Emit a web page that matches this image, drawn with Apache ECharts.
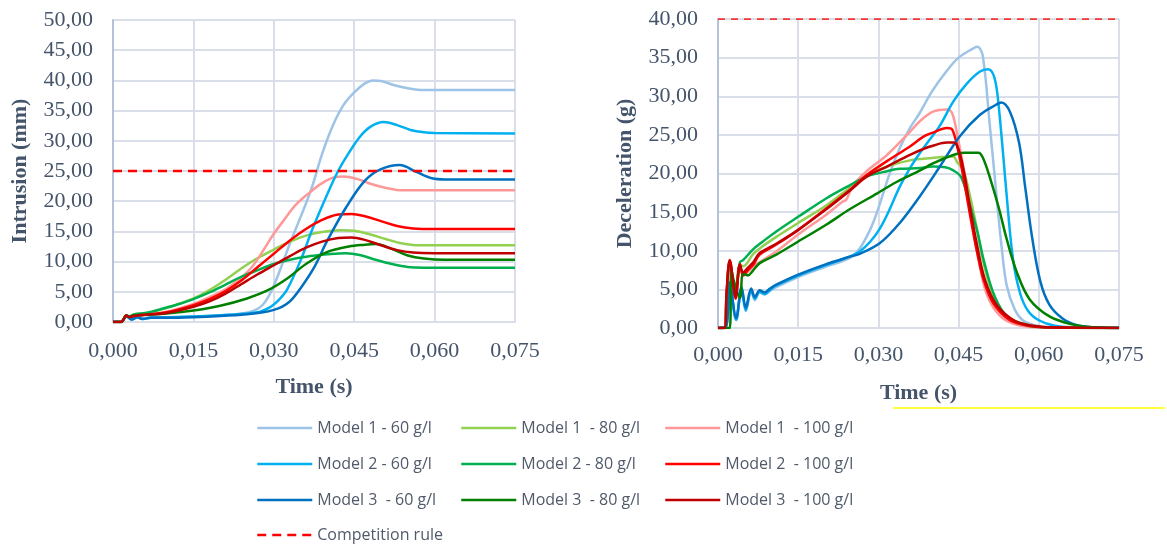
<!DOCTYPE html>
<html>
<head>
<meta charset="utf-8">
<script src="https://cdn.jsdelivr.net/npm/echarts@6/dist/echarts.min.js"></script>
<style>
html, body { margin: 0; padding: 0; background: #fff; }
#chart { width: 1167px; height: 547px; }
</style>
</head>
<body>
<div id="chart"></div>
<script>
// intrusion (mm) vs time (s)
var intrM1_60 = [[0,0],[0.0015,0],[0.0025,1.0],[0.0035,0.5],[0.0045,0.9],[0.0055,0.6],[0.007,0.8],[0.010,0.8],[0.015,0.9],[0.020,1.1],[0.024,1.4],[0.026,1.8],[0.027,2.2],[0.028,2.9],[0.029,4.2],[0.030,6.0],[0.0315,9.4],[0.033,13.0],[0.035,17.4],[0.037,22.0],[0.039,27.8],[0.041,32.5],[0.043,35.9],[0.045,38.0],[0.047,39.5],[0.0485,40.0],[0.050,39.9],[0.0525,39.2],[0.055,38.7],[0.058,38.4],[0.075,38.4]];
var intrM2_60 = [[0,0],[0.0015,0],[0.0025,0.9],[0.0035,0.4],[0.0045,0.8],[0.0055,0.5],[0.007,0.7],[0.010,0.8],[0.015,0.9],[0.020,1.1],[0.025,1.4],[0.027,1.6],[0.028,1.9],[0.029,2.3],[0.030,2.9],[0.031,3.7],[0.0325,5.4],[0.035,10.2],[0.0373,15.6],[0.040,21.2],[0.042,25.0],[0.044,28.0],[0.046,30.6],[0.048,32.3],[0.0505,33.1],[0.053,32.6],[0.0555,31.8],[0.058,31.4],[0.060,31.3],[0.075,31.2]];
var intrM3_60 = [[0,0],[0.0015,0],[0.0025,1.0],[0.0035,0.4],[0.0045,0.8],[0.0055,0.5],[0.007,0.7],[0.010,0.7],[0.015,0.8],[0.020,1.0],[0.025,1.3],[0.028,1.6],[0.030,2.0],[0.0315,2.5],[0.033,3.4],[0.035,5.6],[0.0375,9.0],[0.040,13.5],[0.0435,19.0],[0.047,23.4],[0.050,25.3],[0.0535,26.0],[0.0565,24.9],[0.0595,23.8],[0.062,23.6],[0.075,23.6]];
var intrM1_80 = [[0,0],[0.0015,0],[0.0025,1.1],[0.003,0.9],[0.004,1.2],[0.006,1.4],[0.008,1.8],[0.010,2.3],[0.012,2.9],[0.015,3.9],[0.018,5.3],[0.021,7.0],[0.024,8.9],[0.027,10.6],[0.030,12.0],[0.033,13.3],[0.036,14.3],[0.039,14.9],[0.0425,15.2],[0.045,15.1],[0.048,14.5],[0.051,13.7],[0.054,13.0],[0.057,12.7],[0.075,12.7]];
var intrM2_80 = [[0,0],[0.0015,0],[0.0025,1.1],[0.003,0.9],[0.004,1.3],[0.006,1.5],[0.008,1.9],[0.010,2.4],[0.012,2.9],[0.015,3.8],[0.018,4.9],[0.021,6.2],[0.024,7.5],[0.027,8.6],[0.030,9.6],[0.033,10.3],[0.036,10.8],[0.040,11.2],[0.0435,11.4],[0.046,11.1],[0.049,10.3],[0.052,9.6],[0.055,9.1],[0.058,9.0],[0.075,9.0]];
var intrM3_80 = [[0,0],[0.0015,0],[0.0025,1.0],[0.003,0.9],[0.004,1.1],[0.006,1.2],[0.010,1.4],[0.015,1.9],[0.020,2.7],[0.025,3.9],[0.029,5.3],[0.0325,7.2],[0.036,9.6],[0.040,11.6],[0.044,12.5],[0.047,12.8],[0.049,12.9],[0.052,12.1],[0.055,11.0],[0.058,10.5],[0.062,10.3],[0.075,10.3]];
var intrM1_100 = [[0,0],[0.0015,0],[0.0025,1.0],[0.003,0.8],[0.004,1.0],[0.006,1.2],[0.010,1.7],[0.015,3.0],[0.018,4.1],[0.021,5.4],[0.024,7.4],[0.026,9.2],[0.028,11.8],[0.030,14.6],[0.032,17.0],[0.034,19.3],[0.0365,21.3],[0.039,23.0],[0.0415,24.0],[0.043,24.1],[0.0455,23.7],[0.048,22.9],[0.051,22.2],[0.054,21.8],[0.075,21.8]];
var intrM2_100 = [[0,0],[0.0015,0],[0.0025,1.0],[0.003,0.8],[0.004,1.1],[0.006,1.2],[0.010,1.6],[0.015,2.8],[0.018,3.8],[0.021,5.1],[0.024,6.9],[0.027,9.1],[0.030,11.3],[0.033,13.5],[0.036,15.4],[0.039,16.9],[0.042,17.8],[0.0445,17.9],[0.047,17.5],[0.050,16.7],[0.053,15.9],[0.056,15.5],[0.060,15.4],[0.075,15.4]];
var intrM3_100 = [[0,0],[0.0015,0],[0.0025,1.1],[0.003,0.8],[0.004,1.0],[0.006,1.2],[0.010,1.5],[0.015,2.5],[0.018,3.4],[0.021,4.7],[0.024,6.3],[0.027,7.9],[0.030,9.4],[0.033,10.9],[0.036,12.3],[0.039,13.3],[0.042,13.9],[0.0445,14.0],[0.047,13.6],[0.050,12.7],[0.053,11.9],[0.056,11.5],[0.060,11.4],[0.075,11.4]];
var intrRule = [[0,25],[0.075,25]];

// deceleration (g) vs time (s)
var decM1_60 = [[0,0],[0.0015,0.2],[0.0022,5.5],[0.0034,1.0],[0.0044,5.0],[0.0052,2.2],[0.0062,4.8],[0.0069,3.6],[0.0078,4.6],[0.0087,4.3],[0.0097,4.8],[0.0109,5.3],[0.015,6.6],[0.020,7.9],[0.0245,9.0],[0.0265,10.3],[0.0285,12.8],[0.030,15.5],[0.032,19.8],[0.034,23.3],[0.036,26.0],[0.0377,27.8],[0.040,30.6],[0.0428,33.3],[0.045,35.0],[0.0475,36.1],[0.0485,36.4],[0.0495,35.3],[0.0508,26.5],[0.052,17.8],[0.053,10.8],[0.054,5.5],[0.0555,2.4],[0.057,1.0],[0.059,0.4],[0.062,0.1],[0.075,0]];
var decM2_60 = [[0,0],[0.0015,0.2],[0.0022,5.7],[0.0034,1.1],[0.0044,5.1],[0.0052,2.3],[0.0062,4.9],[0.0069,3.8],[0.0078,4.7],[0.0087,4.4],[0.0097,4.9],[0.0109,5.5],[0.015,6.8],[0.020,8.1],[0.0245,9.2],[0.0265,9.9],[0.0285,11.2],[0.0303,12.9],[0.032,15.2],[0.034,18.3],[0.036,20.8],[0.0377,22.6],[0.0395,24.3],[0.0415,26.2],[0.044,29.3],[0.0465,31.6],[0.049,33.2],[0.0505,33.5],[0.0515,32.8],[0.0522,30.6],[0.0532,23.5],[0.0542,15.5],[0.0552,8.8],[0.0565,4.5],[0.058,2.2],[0.060,1.0],[0.063,0.3],[0.068,0.05],[0.075,0]];
var decM3_60 = [[0,0],[0.0015,0.2],[0.0022,5.9],[0.0034,1.3],[0.0044,5.3],[0.0052,2.6],[0.0062,5.1],[0.0069,4.0],[0.0078,4.9],[0.0087,4.6],[0.0097,5.1],[0.0109,5.6],[0.015,6.9],[0.020,8.2],[0.0245,9.2],[0.0265,9.6],[0.0303,11.0],[0.034,13.6],[0.0377,17.0],[0.0415,20.9],[0.0452,24.8],[0.049,27.6],[0.052,28.9],[0.053,29.2],[0.0546,28.0],[0.0563,24.0],[0.0575,18.0],[0.0588,11.5],[0.0603,6.0],[0.062,3.0],[0.0645,1.2],[0.067,0.4],[0.070,0.1],[0.075,0]];
var decM1_80 = [[0,0],[0.0012,0],[0.0016,4.0],[0.0022,8.4],[0.0032,4.3],[0.0041,8.2],[0.0047,8.0],[0.0066,9.6],[0.0084,10.6],[0.0109,11.8],[0.015,13.6],[0.0203,15.9],[0.0247,18.2],[0.0278,19.7],[0.0316,20.9],[0.0359,21.7],[0.040,22.0],[0.044,22.2],[0.0447,21.5],[0.0459,20.4],[0.0471,17.2],[0.0484,12.9],[0.0496,8.6],[0.0514,4.3],[0.054,1.5],[0.058,0.4],[0.063,0.05],[0.075,0]];
var decM2_80 = [[0,0],[0.0012,0],[0.0016,4.0],[0.0022,8.6],[0.0032,4.5],[0.0041,8.5],[0.0047,8.8],[0.0066,10.2],[0.0084,11.2],[0.0109,12.5],[0.015,14.4],[0.0203,16.8],[0.0247,18.5],[0.0278,19.6],[0.0316,20.3],[0.034,20.6],[0.0378,20.7],[0.0402,20.9],[0.0425,20.8],[0.044,20.4],[0.0455,19.5],[0.047,16.2],[0.0485,12.5],[0.0498,8.5],[0.0518,4.0],[0.0543,1.3],[0.058,0.3],[0.063,0.05],[0.075,0]];
var decM3_80 = [[0,0],[0.0022,0],[0.0025,7.5],[0.003,6.0],[0.0041,3.9],[0.0047,7.1],[0.0056,6.8],[0.0065,7.4],[0.0078,8.4],[0.0109,9.5],[0.015,11.2],[0.0203,13.4],[0.0247,15.4],[0.0297,17.4],[0.0334,18.9],[0.0378,20.4],[0.0402,21.3],[0.044,22.4],[0.046,22.7],[0.0487,22.7],[0.0495,22.1],[0.0508,19.6],[0.0525,15.6],[0.054,11.5],[0.0559,7.2],[0.0583,3.7],[0.062,1.5],[0.066,0.5],[0.070,0.1],[0.075,0]];
var decM1_100 = [[0,0],[0.0012,0],[0.0016,4.0],[0.0022,8.0],[0.0032,4.0],[0.0041,7.8],[0.0047,6.8],[0.0066,8.0],[0.0084,8.8],[0.0109,9.9],[0.015,12.1],[0.0203,14.7],[0.0234,16.4],[0.024,16.6],[0.0253,18.5],[0.0278,20.3],[0.0316,22.4],[0.0359,25.4],[0.0378,26.8],[0.0402,28.0],[0.0428,28.3],[0.0438,27.8],[0.0449,24.5],[0.0462,19.6],[0.0474,14.0],[0.0487,9.0],[0.0502,4.5],[0.0527,1.6],[0.056,0.4],[0.062,0.05],[0.075,0]];
var decM2_100 = [[0,0],[0.0012,0],[0.0016,4.5],[0.0022,8.8],[0.0033,3.8],[0.0041,8.3],[0.0047,6.8],[0.0056,7.5],[0.0066,8.2],[0.0078,9.5],[0.0109,10.8],[0.015,12.7],[0.0203,15.5],[0.0247,17.9],[0.0278,19.8],[0.0316,21.6],[0.0359,23.5],[0.0385,24.8],[0.0402,25.3],[0.0428,25.9],[0.0438,25.7],[0.0449,23.0],[0.0459,19.5],[0.0471,14.8],[0.0484,10.0],[0.0497,6.2],[0.0515,3.2],[0.0546,1.0],[0.058,0.3],[0.063,0.05],[0.075,0]];
var decM3_100 = [[0,0],[0.0012,0],[0.0016,4.5],[0.0022,8.7],[0.0033,4.0],[0.0041,8.2],[0.0047,7.2],[0.0056,7.8],[0.0066,8.5],[0.0078,9.7],[0.0109,10.9],[0.015,12.7],[0.0203,15.4],[0.0247,17.8],[0.0278,19.6],[0.0316,20.9],[0.0359,22.4],[0.0385,23.2],[0.0402,23.6],[0.0428,24.0],[0.0441,24.0],[0.0449,23.3],[0.0459,20.6],[0.0471,15.8],[0.0484,10.9],[0.0499,6.3],[0.0521,3.0],[0.0556,0.9],[0.060,0.2],[0.065,0.05],[0.075,0]];
var decRule = [[0,40],[0.075,40]];

var names = ['Model 1 - 60 g/l', 'Model 1  - 80 g/l', 'Model 1  - 100 g/l',
             'Model 2 - 60 g/l', 'Model 2 - 80 g/l', 'Model 2  - 100 g/l',
             'Model 3  - 60 g/l', 'Model 3  - 80 g/l', 'Model 3  - 100 g/l'];
var colors = ['#9dc3e6', '#92d050', '#ff9999',
              '#00b0f0', '#00b050', '#ff0000',
              '#0070c0', '#008000', '#c00000'];
var ruleName = 'Competition rule';

var intrData = [intrM1_60, intrM1_80, intrM1_100, intrM2_60, intrM2_80, intrM2_100, intrM3_60, intrM3_80, intrM3_100];
var decData = [decM1_60, decM1_80, decM1_100, decM2_60, decM2_80, decM2_100, decM3_60, decM3_80, decM3_100];

var axisColor = '#44546a';
var gridColor = '#d9dee8';
var serif = 'Liberation Serif';

function xAxisFor (gridIndex, margin) {
  return {
    type: 'value', gridIndex: gridIndex, min: 0, max: 0.075, interval: 0.015,
    name: 'Time (s)', nameLocation: 'middle', nameGap: 54,
    nameTextStyle: { color: axisColor, fontFamily: serif, fontSize: 22, fontWeight: 'bold' },
    axisLine: { show: true, lineStyle: { color: gridColor, width: 2 } },
    axisTick: { show: false },
    axisLabel: {
      color: axisColor, fontFamily: serif, fontSize: 22, margin: margin,
      formatter: function (v) { return v.toFixed(3).replace('.', ',') }
    },
    splitLine: { show: true, lineStyle: { color: gridColor, width: 2 } }
  }
}

function yAxisFor (gridIndex, name, max, gap) {
  return {
    type: 'value', gridIndex: gridIndex, min: 0, max: max, interval: 5,
    name: name, nameLocation: 'middle', nameGap: gap,
    nameTextStyle: { color: axisColor, fontFamily: serif, fontSize: 22, fontWeight: 'bold' },
    axisLine: { show: true, lineStyle: { color: '#b4c3da', width: 2 } },
    axisTick: { show: false },
    axisLabel: {
      color: axisColor, fontFamily: serif, fontSize: 22, margin: 20,
      formatter: function (v) { return v.toFixed(2).replace('.', ',') }
    },
    splitLine: { show: true, lineStyle: { color: gridColor, width: 2 } }
  }
}

var series = []
function addSeries (dataList, idx) {
  dataList.forEach(function (d, i) {
    series.push({
      name: names[i], type: 'line', xAxisIndex: idx, yAxisIndex: idx,
      data: d, showSymbol: false, symbol: 'none', smooth: 0.35,
      lineStyle: { color: colors[i], width: 2.5 }, itemStyle: { color: colors[i] }
    })
  })
}
addSeries(intrData, 0)
addSeries(decData, 1)
series.push({
  name: ruleName, type: 'line', xAxisIndex: 0, yAxisIndex: 0, data: intrRule,
  showSymbol: false, symbol: 'none', z: 3,
  lineStyle: { color: '#ff0000', width: 2.5, type: [9, 6] }, itemStyle: { color: '#ff0000' }
})
series.push({
  name: ruleName, type: 'line', xAxisIndex: 1, yAxisIndex: 1, data: decRule,
  showSymbol: false, symbol: 'none', z: 3,
  lineStyle: { color: '#ff0000', width: 1.5, type: [7, 6] }, itemStyle: { color: '#ff0000' }
})

function legendCol (left, top, items) {
  return {
    left: left, top: top, orient: 'vertical', padding: 0,
    itemWidth: 55, itemHeight: 16, itemGap: 20,
    itemStyle: { opacity: 0 },
    lineStyle: { width: 2.5 },
    data: items,
    textStyle: { color: '#505a6a', fontFamily: 'Open Sans', fontSize: 16 }
  }
}

var chart = echarts.init(document.getElementById('chart'))
chart.setOption({
  animation: false,
  backgroundColor: '#fff',
  grid: [
    { left: 113, right: 652, top: 20, bottom: 225 },
    { left: 718, right: 48, top: 19, bottom: 219 }
  ],
  xAxis: [xAxisFor(0, 18), xAxisFor(1, 16)],
  yAxis: [yAxisFor(0, 'Intrusion (mm)', 50, 82), yAxisFor(1, 'Deceleration (g)', 40, 82)],
  legend: [
    legendCol(256, 420, [names[0], names[3], names[6]]),
    legendCol(460, 420, [names[1], names[4], names[7]]),
    legendCol(664, 420, [names[2], names[5], names[8]]),
    legendCol(256, 527, [ruleName])
  ],
  graphic: [{
    type: 'line', shape: { x1: 893, y1: 408, x2: 1165, y2: 408 },
    style: { stroke: '#ffff00', lineWidth: 1.5 }
  }],
  series: series
})
</script>
</body>
</html>
